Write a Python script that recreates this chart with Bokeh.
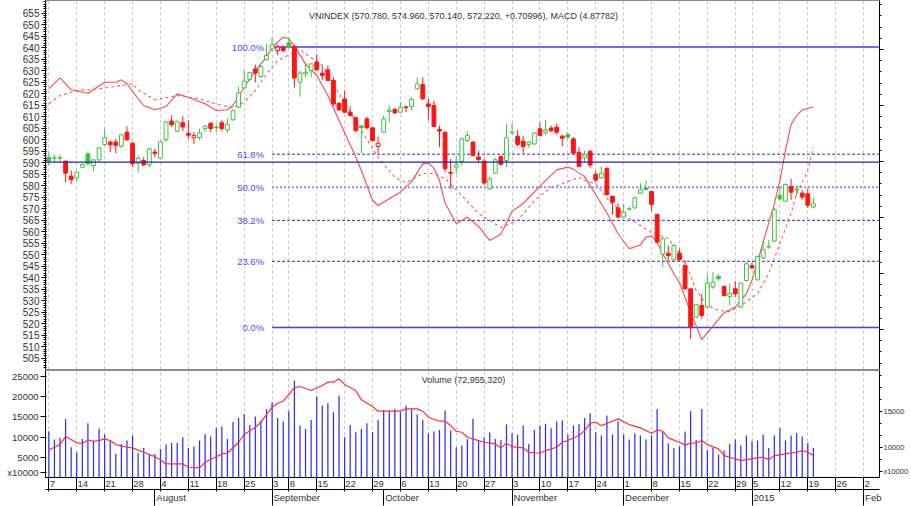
from bokeh.plotting import figure
from bokeh.layouts import column
from bokeh.models import (Range1d, LinearAxis, FixedTicker, SingleIntervalTicker,
                          Grid, Label, Span, ColumnDataSource)
from bokeh.embed import file_html
from bokeh.resources import INLINE

# ---------------- data (trading-day index 0 = 2014-07-07) ----------------
opens = [592.3, 592.0, 592.1, 590.7, 584.2, 583.5, 588.1, 593.9, 588.8, 591.3,
         598.0, 599.0, 599.0, 597.2, 603.3, 598.5, 589.8, 591.0, 589.1, 594.7,
         592.0, 600.1, 608.1, 603.8, 607.4, 602.7, 600.9, 600.9, 604.9, 607.1,
         605.3, 607.4, 604.3, 608.7, 614.2, 622.6, 626.3, 630.8, 627.5, 634.8,
         639.5, 638.8, 640.3, 642.1, 640.6, 625.1, 628.7, 630.1, 633.8, 629.0,
         630.4, 625.8, 615.9, 617.8, 612.0, 609.6, 606.0, 609.1, 605.2, 597.1,
         603.3, 612.3, 613.2, 612.0, 614.3, 614.5, 622.2, 624.0, 615.6, 614.9,
         604.5, 603.3, 585.8, 588.1, 590.7, 599.7, 599.0, 592.5, 590.7, 578.7,
         585.5, 592.7, 591.0, 603.0, 601.4, 599.4, 598.0, 598.2, 604.8, 603.3,
         605.1, 605.5, 601.6, 602.2, 600.4, 594.6, 592.2, 595.0, 585.0, 583.5,
         587.6, 575.4, 570.4, 566.4, 569.8, 570.4, 576.8, 579.0, 577.5, 567.5,
         550.4, 550.7, 547.8, 550.7, 545.3, 535.2, 522.9, 528.0, 527.3, 536.0,
         540.6, 536.2, 531.9, 535.2, 527.3, 538.8, 545.3, 539.1, 548.7, 553.4,
         556.0, 575.8, 573.3, 579.7, 578.2, 576.8, 576.5, 570.78]
highs = [594.6, 593.5, 593.6, 591.0, 586.7, 586.2, 589.6, 594.6, 591.5, 597.0,
         604.8, 599.7, 600.5, 602.6, 605.8, 599.0, 593.2, 592.4, 596.5, 596.1,
         599.5, 608.2, 610.7, 608.5, 610.3, 608.5, 603.3, 604.9, 606.5, 607.8,
         606.9, 608.5, 609.3, 613.2, 623.2, 630.4, 629.6, 632.7, 632.5, 641.7,
         644.6, 641.5, 641.0, 644.3, 641.0, 630.0, 633.0, 633.3, 637.1, 631.9,
         632.3, 627.2, 616.3, 621.4, 614.5, 610.1, 606.3, 610.1, 605.5, 601.4,
         610.5, 614.9, 613.9, 616.4, 615.0, 618.5, 627.2, 627.2, 617.8, 617.0,
         606.2, 603.6, 591.7, 593.2, 601.0, 603.8, 599.4, 595.1, 591.7, 584.0,
         592.2, 593.2, 606.9, 607.2, 604.3, 601.9, 599.5, 603.3, 607.6, 608.6,
         606.2, 607.0, 602.3, 603.3, 601.2, 596.8, 595.4, 595.6, 586.3, 588.4,
         588.0, 575.8, 572.4, 572.2, 571.0, 575.4, 581.2, 582.3, 577.6, 567.8,
         558.0, 554.0, 554.8, 552.6, 546.8, 535.4, 528.7, 533.1, 541.7, 542.5,
         541.7, 536.6, 537.4, 538.6, 538.0, 546.8, 546.8, 549.7, 555.9, 556.5,
         570.4, 579.4, 580.9, 583.0, 580.1, 578.2, 578.7, 574.96]
lows = [588.8, 590.2, 590.5, 581.6, 580.9, 582.0, 587.8, 588.8, 586.3, 590.8,
        597.5, 594.6, 594.2, 596.5, 599.5, 588.1, 585.9, 588.4, 588.1, 592.4,
        591.5, 599.1, 605.6, 603.3, 603.8, 600.6, 598.2, 600.0, 603.5, 603.3,
        603.4, 603.8, 603.0, 608.3, 613.8, 622.0, 625.5, 625.0, 627.0, 634.5,
        638.5, 636.8, 638.0, 639.5, 622.6, 618.8, 627.2, 627.2, 630.0, 626.0,
        625.5, 614.9, 612.7, 611.6, 610.1, 603.3, 594.2, 604.6, 599.2, 594.2,
        603.0, 607.5, 611.3, 611.6, 612.0, 612.8, 621.8, 617.3, 608.5, 605.5,
        596.8, 585.9, 578.7, 585.3, 588.8, 599.0, 592.8, 590.3, 580.2, 578.3,
        585.2, 588.8, 588.1, 602.6, 597.1, 594.2, 596.5, 597.8, 601.4, 601.9,
        603.3, 602.3, 597.1, 600.4, 594.0, 588.1, 590.3, 587.8, 581.6, 583.0,
        575.8, 567.5, 566.1, 566.0, 569.5, 570.0, 576.5, 578.3, 569.0, 554.8,
        544.6, 547.5, 547.5, 547.5, 534.8, 513.5, 522.6, 522.2, 526.5, 535.2,
        538.8, 531.9, 528.0, 531.6, 527.0, 538.5, 543.9, 538.8, 548.2, 552.6,
        555.5, 573.9, 572.9, 573.9, 575.4, 573.9, 570.4, 570.14]
closes = [590.8, 592.1, 592.2, 585.5, 582.7, 585.9, 589.3, 589.6, 591.3, 596.5,
          600.9, 597.8, 597.6, 602.2, 600.0, 589.6, 592.0, 589.1, 596.1, 594.0,
          599.1, 607.8, 606.6, 607.8, 605.6, 602.0, 601.9, 603.0, 605.9, 604.9,
          605.6, 604.9, 606.7, 612.7, 620.3, 625.5, 629.2, 629.0, 631.9, 636.7,
          641.3, 640.3, 638.8, 640.3, 626.9, 629.0, 629.4, 633.0, 630.4, 628.0,
          625.8, 615.6, 613.0, 612.0, 610.6, 604.1, 605.4, 605.2, 599.7, 598.5,
          609.1, 613.0, 611.7, 614.2, 613.9, 617.5, 624.3, 617.8, 614.5, 605.8,
          603.8, 587.4, 585.5, 589.1, 600.4, 601.9, 593.2, 591.4, 581.2, 583.0,
          591.3, 589.3, 600.9, 603.3, 598.0, 597.1, 599.0, 602.9, 601.9, 604.3,
          604.0, 603.3, 600.7, 601.2, 594.2, 588.4, 593.5, 589.0, 582.5, 585.5,
          576.2, 572.9, 566.4, 568.5, 570.0, 574.8, 578.2, 578.4, 571.9, 555.5,
          557.0, 549.7, 554.0, 547.8, 535.2, 518.5, 528.4, 523.6, 537.7, 538.1,
          539.6, 532.3, 533.3, 533.0, 537.7, 546.1, 544.3, 549.3, 552.2, 553.6,
          569.6, 574.3, 580.6, 577.2, 578.6, 575.1, 571.5, 572.22]
prev_close_before_start = 589.5

# volume, in units of 10000 shares
volume = [11460, 9393, 9806, 14516, 7493, 6253, 9558, 13441, 9145, 12120,
          10633, 8980, 5840, 8319, 9145, 10385, 6005, 7327, 5840, 5840,
          7080, 8154, 8567, 8567, 9972, 7327, 7658, 9145, 10798, 10137,
          12286, 12616, 9558, 13771, 14763, 15754, 13028, 15094, 14102, 16994,
          18646, 14763, 13854, 16416, 24018, 12864, 12037, 14268, 20050, 17820,
          18398, 16168, 20300, 9972, 13028, 11211, 12037, 13441, 11211, 14268,
          16746, 16581, 16994, 16168, 17820, 16994, 15590, 14268, 10963, 11376,
          11789, 16581, 11624, 7493, 7906, 9558, 14516, 8980, 9972, 11211,
          9558, 9310, 13110, 10963, 10633, 12864, 8319, 11789, 12864, 13276,
          12203, 13854, 14102, 10633, 12864, 13276, 14763, 15920, 11211, 10385,
          15342, 10633, 13854, 10633, 9393, 10963, 10385, 9393, 10385, 16994,
          11211, 8484, 7327, 7658, 11376, 16416, 9310, 16994, 6831, 7327,
          5675, 6666, 8319, 9393, 7906, 10385, 8980, 9145, 10633, 7327,
          10385, 12286, 9145, 10385, 11046, 10137, 8567, 7296]

# volume moving average
vol_ma_idx = [0, 1, 2, 3, 4, 5, 6, 7, 8, 9, 10, 11, 12, 14, 15, 17, 19, 20, 21, 24,
              25, 27, 28, 31, 32, 34, 35, 37, 38, 40, 41, 42, 44, 45, 47, 49, 50, 51,
              52, 53, 55, 56, 58, 59, 60, 63, 64, 66, 67, 68, 70, 71, 72, 73, 74, 75,
              77, 78, 80, 81, 82, 83, 85, 86, 88, 89, 91, 92, 93, 95, 96, 97, 98, 99,
              101, 102, 104, 106, 108, 109, 110, 111, 113, 114, 115, 116, 117, 118,
              120, 121, 122, 124, 125, 127, 128, 129, 130, 132, 134, 135, 136, 137]
vol_ma = [6830, 7490, 8150, 10140, 9390, 8570, 8480, 9310, 8980, 9150, 9560, 9150,
          8150, 7490, 7330, 6250, 5180, 4350, 3360, 3360, 2540, 2370, 3780, 5840,
          6000, 8730, 10630, 12450, 13690, 17410, 18400, 18890, 22200, 22530,
          21540, 22780, 23600, 23600, 24430, 23030, 21540, 19230, 17570, 16420,
          16420, 16420, 16990, 16990, 16420, 14930, 13940, 13940, 12860, 11460,
          11210, 9970, 9150, 8730, 8320, 7330, 8480, 7660, 7330, 6250, 6000, 6670,
          7490, 8730, 9150, 10390, 11620, 13440, 13690, 12860, 13940, 14520,
          13110, 12290, 10960, 11790, 11460, 9810, 8730, 8070, 8480, 8570, 9150,
          8150, 7080, 5430, 5010, 4190, 4430, 4850, 5010, 4430, 5430, 5840, 6250,
          6670, 6250, 5430]

# MACD and signal line (right-hand scale)
macd_idx = [0, 2, 4, 7, 10, 12, 13, 14, 16, 17, 19, 21, 23, 25, 28, 30, 32, 33, 35,
            37, 39, 40, 42, 43, 44, 46, 48, 50, 52, 55, 56, 58, 59, 61, 63, 65, 67,
            68, 69, 70, 71, 73, 75, 77, 79, 81, 83, 85, 88, 91, 93, 94, 96, 98, 100,
            102, 104, 106, 107, 108, 109, 110, 112, 113, 115, 117, 119, 121, 123,
            125, 126, 128, 130, 131, 132, 133, 134, 135, 137]
macd = [6.5, 7.47, 6.40, 6.10, 7.08, 7.08, 7.29, 6.94, 5.60, 5.0, 4.62, 4.91, 6.04,
        5.74, 5.15, 4.55, 4.62, 5.0, 6.63, 8.13, 9.31, 10.2, 11.1, 10.96, 10.3,
        8.72, 7.7, 5.9, 3.66, 0.4, -0.8, -3.48, -3.93, -3.33, -2.74, -1.8, -0.21,
        -0.13, -0.6, -1.70, -3.7, -5.56, -4.97, -5.8, -7.05, -6.5, -4.45, -3.75,
        -2.2, -0.75, -0.5, -0.7, -1.35, -2.95, -4.6, -6.45, -7.79, -7.45, -6.75,
        -6.65, -7.2, -8.24, -10.0, -10.8, -13.46, -15.9, -14.7, -13.5, -13.0,
        -11.8, -10.6, -7.2, -3.8, -1.7, 1.0, 3.3, 4.1, 4.6, 4.88]
signal_idx = [0, 2, 5, 9, 15, 16, 19, 23, 27, 30, 33, 35, 37, 39, 41, 44, 45, 46,
              49, 52, 56, 59, 62, 64, 67, 69, 71, 74, 77, 79, 81, 84, 87, 90, 93,
              95, 96, 98, 100, 104, 108, 111, 114, 116, 118, 120, 122, 124, 127,
              129, 131, 133, 134, 136, 137]
signal = [5.15, 5.89, 6.34, 6.49, 6.94, 6.40, 5.51, 5.89, 5.60, 5.15, 4.79, 5.29,
          6.34, 7.83, 9.02, 9.76, 10.0, 9.6, 8.6, 6.07, 2.77, 0.36, -1.43, -1.88,
          -1.07, -1.07, -1.52, -3.04, -4.64, -5.27, -5.89, -5.27, -3.48, -2.32,
          -1.79, -1.43, -1.70, -1.96, -3.30, -5.09, -6.34, -6.88, -8.84, -11.52,
          -12.86, -13.30, -13.39, -12.86, -11.79, -10.0, -7.32, -4.64, -2.86,
          -0.80, 1.25]

# Fibonacci retracement
fib_high = 640.33
fib_low = 518.4
fib_start_idx = 40
fib_levels = [1.0, 0.618, 0.5, 0.382, 0.236, 0.0]
fib_labels = ["100.0%", "61.8%", "50.0%", "38.2%", "23.6%", "0.0%"]
hline_price = 590.3

# x-axis labels
week_idx = [0, 5, 10, 15, 20, 25, 30, 35, 40, 43, 48, 53, 58, 63, 68, 73, 78, 83,
            88, 93, 98, 103, 108, 113, 118, 123, 126, 131, 136, 141, 146]
week_labels = ["7", "14", "21", "28", "4", "11", "18", "25", "3", "8", "15", "22",
               "29", "6", "13", "20", "27", "3", "10", "17", "24", "1", "8", "15",
               "22", "29", "5", "12", "19", "26", "2"]
month_idx = [19, 40, 60, 83, 103, 126, 146]
month_labels = ["August", "September", "October", "November", "December", "2015", "Feb"]
price_ticks = list(range(505, 660, 5))
vol_ticks = [5000, 10000, 15000, 20000, 25000]
vol_right_ticks = [10000, 15000]
unit_label = "x10000"
unit_label_left_at = 1340      # position of the unit box on the left volume scale
unit_label_right_at = 6667     # position of the unit box on the right volume scale

title_text = "VNINDEX (570.780, 574.960, 570.140, 572.220, +0.70996), MACD (4.87782)"
vol_title_text = "Volume (72,955,320)"

# ---------------- styling / layout ----------------
FONT = "Liberation Sans"
TXT = "#333333"
GREEN = "#3cc43c"
RED = "#ff1414"
PX_PER_DAY = 5.594
FRAME_W = 836
x_start = -0.6
x_end = x_start + FRAME_W / PX_PER_DAY

n = len(closes)
prev = [prev_close_before_start] + closes[:-1]
colors = [GREEN if c >= pc else RED for c, pc in zip(closes, prev)]
fills = [col if c < o else "white" for col, c, o in zip(colors, closes, opens)]
src = ColumnDataSource(dict(
    x=list(range(n)), o=opens, h=highs, l=lows, c=closes,
    top=[max(o, c) for o, c in zip(opens, closes)],
    bottom=[min(o, c) for o, c in zip(opens, closes)],
    color=colors, fill=fills))

# ---------- price panel ----------
p1 = figure(width=911, height=370, output_backend="svg", toolbar_location=None,
            x_range=Range1d(x_start, x_end), y_range=Range1d(500.13, 660.57),
            x_axis_location=None, min_border_left=45, min_border_right=30,
            min_border_top=0, min_border_bottom=1)
p1.background_fill_color = "white"
p1.border_fill_color = "white"
p1.outline_line_color = "#8c8c8c"
p1.xgrid.visible = False
p1.ygrid.visible = False
p1.add_layout(Grid(dimension=0, ticker=FixedTicker(ticks=week_idx),
                   grid_line_color="#c4c4c4", grid_line_dash="3 3"))

ya = p1.yaxis[0]
ya.ticker = FixedTicker(ticks=price_ticks, minor_ticks=list(range(501, 661)))
ya.major_label_text_font = FONT
ya.major_label_text_font_size = "10px"
ya.major_label_text_color = TXT
ya.major_tick_out = 4
ya.major_tick_in = 1
ya.minor_tick_out = 2
ya.minor_tick_in = 1
ya.major_label_standoff = 2
ya.axis_line_color = "black"

p1.extra_y_ranges = {"macd": Range1d(-18.571, 14.375)}
ra = LinearAxis(y_range_name="macd", ticker=SingleIntervalTicker(interval=5, num_minor_ticks=5),
                major_label_text_color=None, major_label_text_font_size="8px",
                major_tick_out=4, major_tick_in=0,
                minor_tick_out=2, minor_tick_in=0, major_label_standoff=2,
                axis_line_color="black")
p1.add_layout(ra, "right")

# Fibonacci lines
fib_prices = [fib_low + lv * (fib_high - fib_low) for lv in fib_levels]
fib_style = {1.0: ("#3d3dff", 1.6, "solid"), 0.618: ("#2626d0", 1.0, "3 2"),
             0.5: ("#8c8cff", 2.0, "2 2"), 0.382: ("#2626d0", 1.0, "3 2"),
             0.236: ("#2626d0", 1.0, "3 2"), 0.0: ("#3d3dff", 1.6, "solid")}
for lv, pr, lab in zip(fib_levels, fib_prices, fib_labels):
    col, lw, dash = fib_style[lv]
    p1.segment(x0=[fib_start_idx], y0=[pr], x1=[x_end], y1=[pr],
               line_color=col, line_width=lw, line_dash=dash)
    p1.add_layout(Label(x=fib_start_idx, y=pr, x_offset=-8, text=lab,
                        text_align="right", text_baseline="middle",
                        text_font=FONT, text_font_size="9.5px", text_color="#4a4aff"))

p1.add_layout(Span(location=hline_price, dimension="width",
                   line_color="#1e1ec8", line_width=1.3))

# MACD lines
p1.line(macd_idx, macd, y_range_name="macd", line_color="#ff4848", line_width=1.1)
p1.line(signal_idx, signal, y_range_name="macd", line_color="#ff5a5a",
        line_width=1.1, line_dash="3 3")

# candles
p1.segment(x0="x", y0="l", x1="x", y1="h", line_color="color", line_width=1, source=src)
p1.vbar(x="x", width=0.68, top="top", bottom="bottom", fill_color="fill",
        line_color="color", line_width=1, source=src)

p1.add_layout(Label(x=418, y=354, x_units="screen", y_units="screen", text=title_text,
                    text_align="center", text_baseline="middle", text_font=FONT,
                    text_font_size="9px", text_color=TXT))

# ---------- volume panel ----------
p2 = figure(width=911, height=136, output_backend="svg", toolbar_location=None,
            x_range=p1.x_range, y_range=Range1d(0, 26500),
            x_axis_location=None, min_border_left=45, min_border_right=30,
            min_border_top=0, min_border_bottom=29)
p2.background_fill_color = "white"
p2.border_fill_color = "white"
p2.outline_line_color = "#8c8c8c"
p2.xgrid.visible = False
p2.ygrid.visible = False
p2.add_layout(Grid(dimension=0, ticker=FixedTicker(ticks=week_idx),
                   grid_line_color="#c4c4c4", grid_line_dash="3 3"))

va = p2.yaxis[0]
va.ticker = FixedTicker(ticks=vol_ticks + [unit_label_left_at], minor_ticks=[])
va.major_label_overrides = {unit_label_left_at: unit_label}
va.major_label_text_font = FONT
va.major_label_text_font_size = "9.5px"
va.major_label_text_color = TXT
va.major_tick_out = 5
va.major_tick_in = 1
va.major_label_standoff = 2
va.axis_line_color = "black"

p2.extra_y_ranges = {"vol2": Range1d(5909, 20647)}
vr_minor = [round(5000 + k * 5000 / 3) for k in range(1, 10)]
vra = LinearAxis(y_range_name="vol2",
                 ticker=FixedTicker(ticks=vol_right_ticks + [unit_label_right_at], minor_ticks=vr_minor),
                 major_label_overrides={unit_label_right_at: unit_label},
                 major_label_text_font=FONT, major_label_text_font_size="7.5px",
                 major_label_text_color=TXT,
                 major_tick_out=3, major_tick_in=0,
                 minor_tick_out=2, minor_tick_in=0, major_label_standoff=1,
                 axis_line_color="black")
p2.add_layout(vra, "right")

p2.vbar(x=list(range(n)), top=volume, bottom=0, width=0.22,
        fill_color="#2c2cff", line_color=None)
p2.line(vol_ma_idx, vol_ma, line_color="#ff3030", line_width=1.2)

p2.add_layout(Label(x=418, y=98, x_units="screen", y_units="screen", text=vol_title_text,
                    text_align="center", text_baseline="middle", text_font=FONT,
                    text_font_size="9px", text_color=TXT))

# x axes (day numbers and month names), on a x100 helper range
p2.extra_x_ranges = {"lab": Range1d(x_start * 100, x_end * 100)}
DIGIT_PX = 5.0
day_pos = [round((g + (1.0 + DIGIT_PX * len(t) / 2) / PX_PER_DAY) * 100)
           for g, t in zip(week_idx, week_labels)]
grid_pos = [g * 100 for g in week_idx]
ax_days = LinearAxis(x_range_name="lab",
                     ticker=FixedTicker(ticks=day_pos, minor_ticks=grid_pos),
                     major_label_overrides=dict(zip(day_pos, week_labels)),
                     major_tick_in=0, major_tick_out=0, minor_tick_in=0, minor_tick_out=14,
                     major_label_standoff=-11, axis_line_color="black",
                     major_label_text_font=FONT, major_label_text_font_size="9.5px",
                     major_label_text_color=TXT)
p2.add_layout(ax_days, "below")

ARIAL_W = {'A': .667, 'u': .556, 'g': .556, 's': .5, 't': .278, 'S': .667, 'e': .556,
           'p': .556, 'm': .833, 'b': .556, 'r': .333, 'O': .778, 'c': .5, 'o': .556,
           'N': .722, 'v': .5, 'D': .722, 'F': .611}
MONTH_FS = 9.5
def text_w(s):
    return sum(ARIAL_W.get(ch, .556) for ch in s) * MONTH_FS
month_pos = [round((m + (1.5 + text_w(t) / 2) / PX_PER_DAY) * 100)
             for m, t in zip(month_idx, month_labels)]
ax_months = LinearAxis(x_range_name="lab",
                       ticker=FixedTicker(ticks=month_pos, minor_ticks=[m * 100 for m in month_idx]),
                       major_label_overrides=dict(zip(month_pos, month_labels)),
                       major_tick_in=0, major_tick_out=0, minor_tick_in=0, minor_tick_out=16,
                       major_label_standoff=-14, axis_line_color="black",
                       major_label_text_font=FONT, major_label_text_font_size="9.5px",
                       major_label_text_color=TXT)
p2.add_layout(ax_months, "below")

layout = column(p1, p2, spacing=0)
open("out.html", "w").write(file_html(layout, INLINE))
